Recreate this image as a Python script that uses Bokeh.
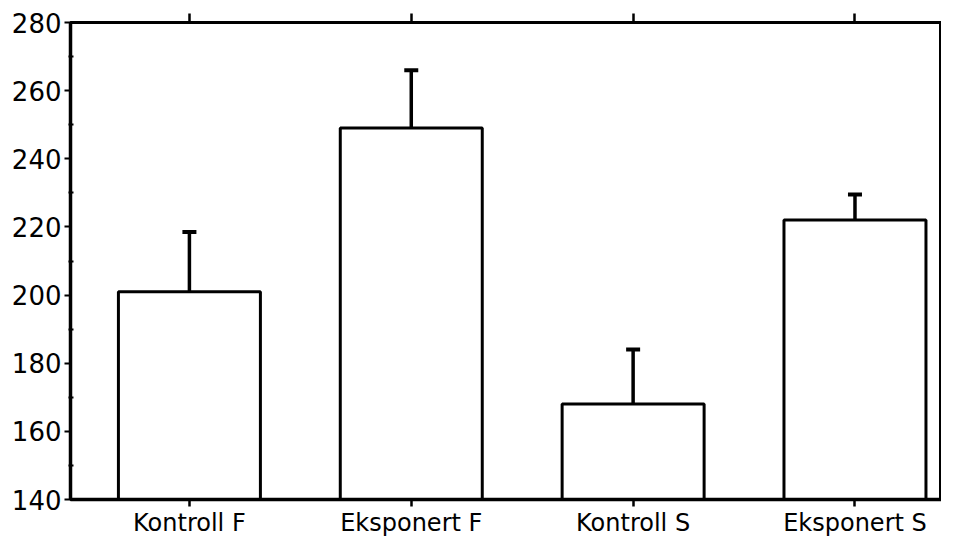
from bokeh.plotting import figure
from bokeh.models import Range1d, FixedTicker, LinearAxis, Whisker, TeeHead, ColumnDataSource
from bokeh.embed import file_html
from bokeh.resources import INLINE

categories = ["Kontroll F", "Eksponert F", "Kontroll S", "Eksponert S"]
means = [201, 249, 168, 222]
upper = [218.5, 266, 184, 229.5]
y_ticks = [140, 160, 180, 200, 220, 240, 260, 280]
y_minor = [150, 170, 190, 210, 230, 250, 270]

xs = list(range(1, len(categories) + 1))
src = ColumnDataSource(dict(x=xs, top=means, upper=upper))

p = figure(width=941, height=539, output_backend="svg", toolbar_location=None,
           x_range=Range1d(0.464, 4.39), y_range=Range1d(140, 280),
           min_border_left=70, min_border_right=0, min_border_top=22, min_border_bottom=36)
p.grid.visible = False
p.outline_line_color = "black"
p.outline_line_width = 3
p.background_fill_color = "white"
p.border_fill_color = "white"

p.vbar(x="x", top="top", bottom=140, width=0.64, source=src,
       fill_color="white", line_color="black", line_width=3)

w = Whisker(base="x", lower="top", upper="upper", source=src,
            line_color="black", line_width=3.5,
            upper_head=TeeHead(size=14, line_color="black", line_width=4),
            lower_head=None)
p.add_layout(w)

# x axis (bottom)
xa = p.xaxis[0]
xa.ticker = FixedTicker(ticks=xs)
xa.major_label_overrides = {i: c for i, c in zip(xs, categories)}
xa.axis_line_width = 3.5
xa.major_tick_out = 7
xa.major_tick_in = 0
xa.major_tick_line_width = 2.5
xa.minor_tick_line_color = None
xa.major_label_standoff = 2
xa.major_label_text_font = "DejaVu Sans"
xa.major_label_text_font_size = "24px"
xa.major_label_text_color = "black"

# y axis (left)
ya = p.yaxis[0]
ya.ticker = FixedTicker(ticks=y_ticks, minor_ticks=y_minor)
ya.axis_line_width = 3.5
ya.major_tick_out = 6
ya.major_tick_in = 0
ya.major_tick_line_width = 2
ya.minor_tick_out = 2
ya.minor_tick_in = 3
ya.minor_tick_line_width = 2
ya.major_label_standoff = 3
ya.major_label_text_font = "DejaVu Sans"
ya.major_label_text_font_size = "26px"
ya.major_label_text_color = "black"

# top axis: ticks only, no labels
ta = LinearAxis(ticker=FixedTicker(ticks=xs))
ta.axis_line_width = 3
ta.major_tick_out = 9
ta.major_tick_in = 0
ta.major_tick_line_width = 2.5
ta.minor_tick_line_color = None
ta.major_label_text_color = None
ta.major_label_standoff = 0
p.add_layout(ta, "above")

open("out.html", "w").write(file_html(p, INLINE))
